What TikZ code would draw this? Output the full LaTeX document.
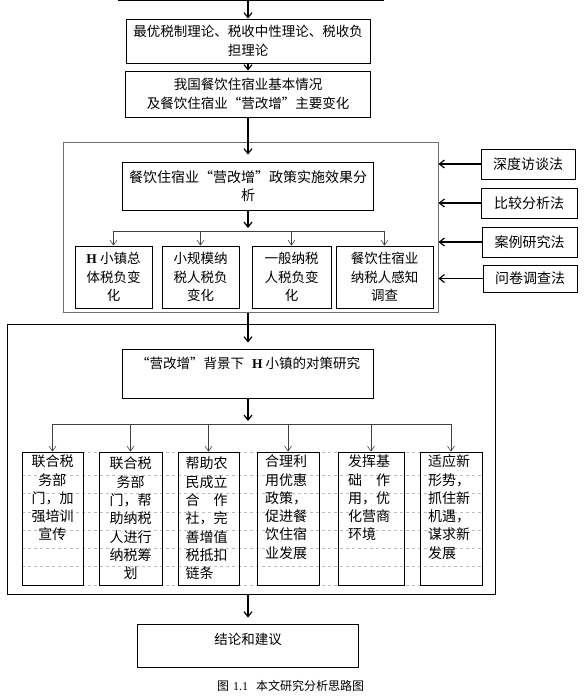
\documentclass[tikz,border=0pt]{standalone}
\usepackage{fontspec}
\setmainfont{Noto Sans CJK SC}
\newfontfamily\serifH{Liberation Serif}
\usetikzlibrary{arrows.meta,calc}
\definecolor{framegray}{HTML}{6E6E6E}
\definecolor{dashgray}{HTML}{BDBDBD}
\newcommand{\Hs}{{\serifH\bfseries H}}

\begin{document}
\begin{tikzpicture}[x=1pt,y=-1pt,
  box/.style={draw,line width=0.8pt,align=center,inner sep=0pt,font=\fontsize{13.5}{19.5}\selectfont},
  sbox/.style={draw,line width=0.8pt,align=center,inner sep=0pt,minimum height=62pt,font=\fontsize{13.5}{18.5}\selectfont},
  mbox/.style={draw,line width=0.8pt,inner sep=0pt,minimum height=30pt,font=\fontsize{14}{16}\selectfont},
  cbox/.style={draw,line width=0.8pt,text width=46pt,inner xsep=7pt,inner ysep=0pt,minimum height=133pt,font=\fontsize{14}{18.3}\selectfont},
  frame/.style={draw=framegray,line width=1pt},
  arr/.style={-{Straight Barb[length=5pt,width=8pt]},line width=1.2pt},
  brarr/.style={-{Straight Barb[length=5pt,width=7pt]},line width=0.6pt,black!75}]
\useasboundingbox (0,0) rectangle (587,699);
\foreach \y in {452,475,493,512,530,548,566,585}
  \draw[dashgray,dashed,line width=0.5pt] (22,\y) -- (482,\y);
\node[box,minimum width=265pt,minimum height=41pt] (b0) at (250.5,-20) {};
\node[box,minimum width=244pt,minimum height=44pt] (b1) at (248,41) {最优税制理论、税收中性理论、税收负\\担理论};
\node[box,minimum width=245pt,minimum height=46pt] (b2) at (248,94) {我国餐饮住宿业基本情况\\及餐饮住宿业“营改增”主要变化};
\node[frame,minimum width=375pt,minimum height=170pt] (f1) at (250.5,227) {};
\node[box,minimum width=251pt,minimum height=48pt,font=\fontsize{14}{18}\selectfont] (b3) at (248,186) {餐饮住宿业“营改增”政策实施效果分\\析};
\node[sbox,minimum width=77pt] (sa) at (113.5,277) {\Hs\ 小镇总\\体税负变\\化};
\node[sbox,minimum width=77pt] (sb) at (200.5,277) {小规模纳\\税人税负\\变化};
\node[sbox,minimum width=79pt] (sc) at (291.5,277) {一般纳税\\人税负变\\化};
\node[sbox,minimum width=97pt] (sd) at (384.5,277) {餐饮住宿业\\纳税人感知\\调查};
\node[mbox,minimum width=94pt] (m1) at (528,164) {深度访谈法};
\node[mbox,minimum width=96pt] (m2) at (529,203) {比较分析法};
\node[mbox,minimum width=95pt] (m3) at (529.5,242) {案例研究法};
\node[mbox,minimum width=94pt,minimum height=27pt] (m4) at (530,278.5) {问卷调查法};
\node[draw,line width=0.8pt,minimum width=488pt,minimum height=270pt] (f2) at (251,459) {};
\node[box,minimum width=251pt,minimum height=49pt,text height=11.9pt,text depth=22.7pt] (b4) at (248,373.5) {“营改增”背景下\hspace{8pt}\Hs\hspace{3pt}小镇的对策研究};
\node[cbox,align=center,minimum width=61pt] (c1) at (52.5,518.5) {联合税\\务部\\门，加\\强培训\\宣传\\\strut\\\strut};
\node[cbox,align=center,minimum width=63pt] (c2) at (130.5,518.5) {联合税\\务部\\门，帮\\助纳税\\人进行\\纳税筹\\划};
\node[cbox,align=left,minimum width=61pt] (c3) at (208.5,518.5) {帮助农\\民成立\\合　作\\社，完\\善增值\\税抵扣\\链条};
\node[cbox,align=left,minimum width=62pt] (c4) at (288,518.5) {合理利\\用优惠\\政策，\\促进餐\\饮住宿\\业发展\\\strut};
\node[cbox,align=left,minimum width=66pt] (c5) at (371,518.5) {发挥基\\础　作\\用，优\\化营商\\环境\\\strut\\\strut};
\node[cbox,align=left,minimum width=62pt] (c6) at (451,518.5) {适应新\\形势，\\抓住新\\机遇，\\谋求新\\发展\\\strut};
\node[box,minimum width=221pt,minimum height=43pt,text height=11.9pt,text depth=14.7pt] (b5) at (248,645.5) {结论和建议};
\node[font=\fontsize{12}{14}\selectfont] (cap) at (290.5,686) {图\hspace{4pt}{\serifH 1.1}\hspace{8pt}本文研究分析思路图};
\coordinate (j1) at (248,231);
\coordinate (j2) at (248,424);
\draw[arr] (b0.south -| b1) -- (b1);
\draw[arr] (b1) -- (b2);
\draw[arr,shorten >=7pt] (b2) -- (b3);
\draw[arr,shorten >=3pt] (b3) -- (j1);
\foreach \s in {sa,sb,sc,sd}
  \draw[brarr] (j1) -| (\s);
\foreach \m in {m1,m2,m3,m4}
  \draw[arr] (\m.west) -- (\m.west -| f1.east);
\draw[arr,shorten >=6pt] (f1.south -| b4) -- (b4);
\draw[arr,shorten >=3pt] (b4) -- (j2);
\foreach \c in {c1,c2,c3,c4,c5,c6}
  \draw[brarr] (j2) -| (\c);
\draw[arr,shorten >=6pt] (f2.south -| b5) -- (b5);
\end{tikzpicture}
\end{document}
